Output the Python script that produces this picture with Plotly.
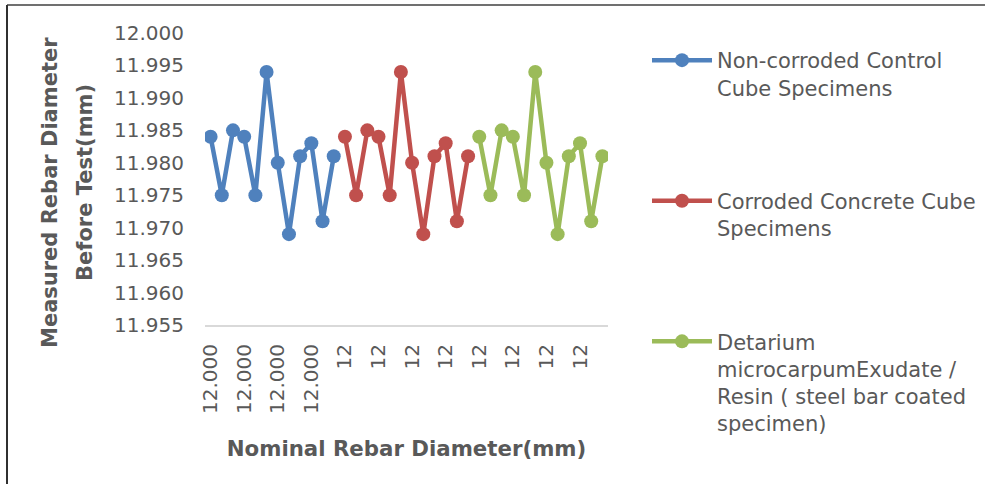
import plotly.graph_objects as go

# ---- data ----
category_labels = ["12.000"] * 12 + ["12"] * 24
series_names = [
    "Non-corroded Control<br>Cube Specimens",
    "Corroded Concrete Cube<br>Specimens",
    "Detarium<br>microcarpumExudate /<br>Resin ( steel bar coated<br>specimen)",
]
non_corroded = [11.984, 11.975, 11.985, 11.984, 11.975, 11.994,
                11.980, 11.969, 11.981, 11.983, 11.971, 11.981]
corroded = [11.984, 11.975, 11.985, 11.984, 11.975, 11.994,
            11.980, 11.969, 11.981, 11.983, 11.971, 11.981]
coated = [11.984, 11.975, 11.985, 11.984, 11.975, 11.994,
          11.980, 11.969, 11.981, 11.983, 11.971, 11.981]
y_ticks = [11.955, 11.960, 11.965, 11.970, 11.975, 11.980,
           11.985, 11.990, 11.995, 12.000]
y_title_lines = ["Measured Rebar Diameter", "Before Test(mm)"]
x_title = "Nominal Rebar Diameter(mm)"

colors = ["#4F81BD", "#C0504D", "#9BBB59"]
series_values = [non_corroded, corroded, coated]

FONT = "DejaVu Sans"
GREY = "#595959"

fig = go.Figure()
start = 0
for i, (name, vals) in enumerate(zip(series_names, series_values)):
    xs = list(range(start, start + len(vals)))
    start += len(vals)
    fig.add_trace(go.Scatter(
        x=xs, y=vals, name=name, mode="lines+markers",
        line=dict(color=colors[i], width=4.5),
        marker=dict(color=colors[i], size=14),
        legendgroup=f"g{i}",
    ))

n = len(category_labels)
tickvals = list(range(0, n, 3))
ticktext = [category_labels[i] for i in tickvals]

L, R, T, B = 205, 377, 33, 159
W, H = 985, 484
pw, ph = W - L - R, H - T - B

def px2x(px):
    return (px - L) / pw

def py2y(py):
    return (H - B - py) / ph

annotations = [
    dict(text=f"<b>{y_title_lines[0]}</b>", xref="paper", yref="paper",
         x=px2x(50), y=py2y(193), xanchor="center", yanchor="middle",
         textangle=-90, showarrow=False,
         font=dict(family=FONT, size=21, color=GREY)),
    dict(text=f"<b>{y_title_lines[1]}</b>", xref="paper", yref="paper",
         x=px2x(85), y=py2y(183), xanchor="center", yanchor="middle",
         textangle=-90, showarrow=False,
         font=dict(family=FONT, size=21, color=GREY)),
]

fig.update_layout(
    width=W, height=H,
    margin=dict(l=L, r=R, t=T, b=B, pad=0, autoexpand=False),
    paper_bgcolor="white", plot_bgcolor="white",
    font=dict(family=FONT, color=GREY),
    showlegend=True,
    legend=dict(
        xref="container", yref="container",
        x=647 / W, y=1 - 40 / H, xanchor="left", yanchor="top",
        font=dict(family=FONT, size=21, color=GREY),
        valign="top", tracegroupgap=83, itemwidth=60,
        maxheight=440,
        bgcolor="rgba(0,0,0,0)",
    ),
    xaxis=dict(
        range=[-0.5, n - 0.5],
        tickmode="array", tickvals=tickvals, ticktext=ticktext,
        tickangle=-90, tickfont=dict(family=FONT, size=20, color=GREY),
        showgrid=False, zeroline=False,
        showline=True, linecolor="#D9D9D9", linewidth=2,
        ticks="", ticklabelstandoff=9,
        title=dict(text=f"<b>{x_title}</b>",
                   font=dict(family=FONT, size=21.3, color=GREY), standoff=28),
    ),
    yaxis=dict(
        range=[11.955, 12.000],
        tickmode="array", tickvals=y_ticks,
        ticktext=[f"{v:.3f}" for v in y_ticks],
        tickfont=dict(family=FONT, size=20, color=GREY),
        showgrid=False, zeroline=False, showline=False,
        ticks="", ticklabelstandoff=20,
    ),
    annotations=annotations,
    shapes=[
        dict(type="line", xref="paper", yref="paper",
             x0=px2x(7), x1=px2x(W), y0=py2y(5), y1=py2y(5),
             line=dict(color="#707070", width=2)),
        dict(type="line", xref="paper", yref="paper",
             x0=px2x(7), x1=px2x(7), y0=py2y(5), y1=py2y(H),
             line=dict(color="#303030", width=2)),
    ],
)

fig.write_html("out.html")
